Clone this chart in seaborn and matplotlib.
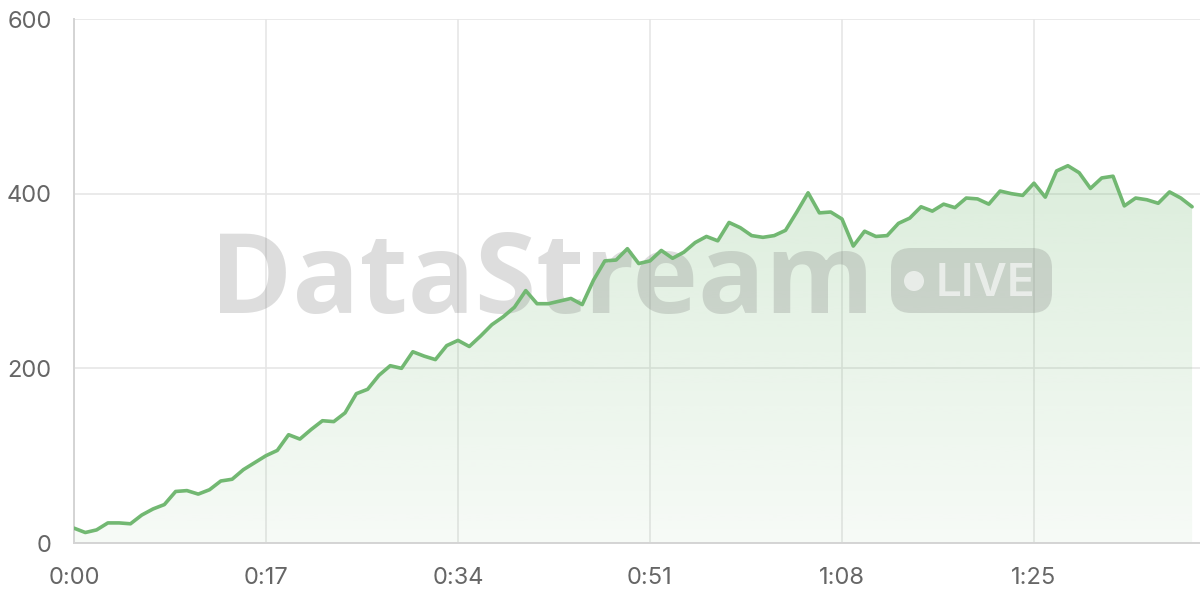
import numpy as np
import pandas as pd
import matplotlib
matplotlib.use("Agg")
import matplotlib.pyplot as plt
import seaborn as sns
from matplotlib.patches import FancyBboxPatch, Circle, PathPatch

# ---- data ----
seconds = list(range(100))
viewers = [17, 12, 15, 23, 23, 22, 32, 39, 44, 59,
           60, 56, 61, 71, 73, 84, 92, 100, 106, 124,
           119, 130, 140, 139, 149, 171, 176, 192, 203, 200,
           219, 214, 210, 226, 232, 225, 237, 250, 259, 270,
           289, 274, 274, 277, 280, 273, 301, 323, 324, 337,
           320, 323, 335, 326, 333, 344, 351, 346, 367, 361,
           352, 350, 352, 358, 379, 401, 378, 379, 371, 340,
           357, 351, 352, 366, 372, 385, 380, 388, 384, 395,
           394, 388, 403, 400, 398, 412, 396, 426, 432, 424,
           406, 418, 420, 386, 395, 393, 389, 402, 395, 385]
x_ticks = [0, 17, 34, 51, 68, 85]
x_tick_labels = ["0:00", "0:17", "0:34", "0:51", "1:08", "1:25"]
y_ticks = [0, 200, 400, 600]
y_tick_labels = ["0", "200", "400", "600"]
watermark = "DataStream"
badge = "LIVE"

df = pd.DataFrame({"t": seconds, "v": viewers})

sns.set_theme(style="white")
plt.rcParams["font.family"] = ["Inter", "DejaVu Sans"]

W, H = 1200, 600
fig = plt.figure(figsize=(12, 6), dpi=100)
ax = fig.add_axes([74 / W, (H - 543) / H, (W - 74) / W, (543 - 19) / H])

green = "#72b872"
grid_c = "#e6e6e6"

# gradient fill under the line
poly = ax.fill_between(df["t"], df["v"], 0, facecolor="none", edgecolor="none")
path = poly.get_paths()[0]
clip = PathPatch(path, transform=ax.transData, facecolor="none", edgecolor="none")
ax.add_patch(clip)
rgb = matplotlib.colors.to_rgb(green)
grad = np.zeros((256, 1, 4))
grad[..., 0], grad[..., 1], grad[..., 2] = rgb
grad[..., 3] = np.linspace(0.06, 0.26, 256)[:, None]
im = ax.imshow(grad, extent=[0, max(seconds), 0, 450], origin="lower",
               aspect="auto", zorder=1, interpolation="bilinear")
im.set_clip_path(clip)

sns.lineplot(data=df, x="t", y="v", ax=ax, color=green, linewidth=2.6,
             zorder=4)

ax.set_xlim(0, 99.7)
ax.set_ylim(0, 600)
ax.set_xticks(x_ticks)
ax.set_xticklabels(x_tick_labels)
ax.set_yticks(y_ticks)
ax.set_yticklabels(y_tick_labels)
ax.set_xlabel("")
ax.set_ylabel("")
ax.grid(True, color=grid_c, linewidth=1.2, zorder=0)
ax.set_axisbelow(True)
ax.tick_params(axis="both", length=11, width=1.2, color=grid_c,
               labelsize=17, labelcolor="#666666")
ax.tick_params(axis="x", pad=6)
ax.tick_params(axis="y", pad=5)
for s in ["top", "right"]:
    ax.spines[s].set_visible(False)
ax.spines["left"].set_color("#d4d4d4")
ax.spines["left"].set_linewidth(1.4)
ax.spines["bottom"].set_color("#d4d4d4")
ax.spines["bottom"].set_linewidth(1.4)

# watermark
ax.text(210 / W, 1 - 313 / H, watermark, transform=fig.transFigure,
        fontsize=80, fontweight="bold", family=["Open Sans", "DejaVu Sans"],
        color=(0.45, 0.45, 0.45, 0.24), ha="left", va="baseline",
        zorder=3, clip_on=False)

def px(x, y):
    return x / 100.0, (H - y) / 100.0

x0, y0 = px(891, 313)
pill = FancyBboxPatch((x0 + 0.2, y0 + 0.2), (1052 - 891) / 100 - 0.4,
                      (313 - 248) / 100 - 0.4,
                      boxstyle="round,pad=0.2,rounding_size=0.2",
                      transform=fig.dpi_scale_trans,
                      facecolor=(0.45, 0.45, 0.45, 0.24), edgecolor="none",
                      zorder=3, clip_on=False)
ax.add_patch(pill)
dot = Circle(px(914, 281), 0.10, transform=fig.dpi_scale_trans,
             facecolor=(1, 1, 1, 0.6), edgecolor="none", zorder=3.1,
             clip_on=False)
ax.add_patch(dot)
bx, by = px(936, 296)
ax.text(bx, by, badge, transform=fig.dpi_scale_trans, fontsize=33,
        fontweight="semibold", color=(1, 1, 1, 0.6), ha="left",
        va="baseline", zorder=3.1, clip_on=False)

fig.savefig("out.png", dpi=100)
